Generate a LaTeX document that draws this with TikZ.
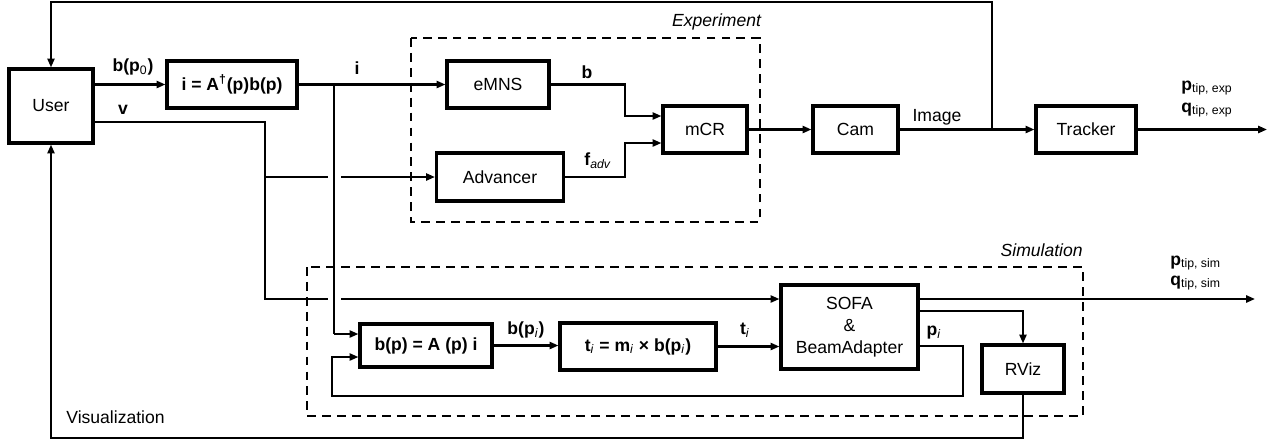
\documentclass[tikz,border=0pt]{standalone}
\usepackage{fontspec}
\setmainfont{Liberation Sans}
\usepackage{tikz}
\usetikzlibrary{arrows.meta}
\usetikzlibrary{calc}

\begin{document}
\begin{tikzpicture}[x=0.02cm,y=-0.02cm,
    line/.style={line width=1.2pt},
    arr/.style={line width=1.2pt,-{Triangle[length=5pt,width=4pt]}},
    crossgap/.style={preaction={draw=white,line width=0.26cm}},
    dashbox/.style={line width=1.2pt,dash pattern=on 5pt off 3.5pt}]
    \useasboundingbox (0,0) rectangle (1274,443);
    \begin{scope}[every node/.style={draw,line width=1.8pt,inner sep=0pt,align=center}]
    \node[minimum width=1.68cm,minimum height=1.48cm] (user) at (51,106) {User};
    \node[minimum width=2.6cm,minimum height=0.94cm] (inv) at (232,84.5) {\textbf{i = A\textsuperscript{†}(p)b(p)}};
    \node[minimum width=2.04cm,minimum height=0.94cm] (emns) at (498,84.5) {eMNS};
    \node[minimum width=2.54cm,minimum height=0.96cm] (adv) at (500,177) {Advancer};
    \node[minimum width=1.68cm,minimum height=0.94cm] (mcr) at (705,129.5) {mCR};
    \node[minimum width=1.7cm,minimum height=0.94cm] (cam) at (855.5,129.5) {Cam};
    \node[minimum width=2.0cm,minimum height=0.94cm] (tracker) at (1086,129.5) {Tracker};
    \node[minimum width=2.64cm,minimum height=0.86cm] (field) at (426,345.5) {\textbf{b(p) = A (p) i}};
    \node[minimum width=3.12cm,minimum height=0.94cm] (torque) at (638,346.5) {\textbf{t}\textsubscript{\textit{i}}\textbf{ = m}\textsubscript{\textit{i}}\textbf{ × b(p}\textsubscript{\textit{i}}\textbf{)}};
    \node[minimum width=2.74cm,minimum height=1.68cm,font={\fontsize{10}{12.5}\selectfont}] (sofa) at (849.5,327) {SOFA\\\&\\BeamAdapter};
    \node[minimum width=1.64cm,minimum height=0.96cm] (rviz) at (1023,369) {RViz};
    \end{scope}
    \coordinate (jI) at (334,84.5);
    \coordinate (jB) at (334,334);
    \coordinate (vsplit) at (265,177);
    \coordinate (imgsplit) at (992,129.5);
    \coordinate (fb) at (963,396);
    \coordinate (expout) at (1267,129.5);
    \coordinate (simout) at (1255,299);
    % v to advancer and sofa
    \draw[arr] ($(user.east)+(0,16)$) -| (vsplit) |- ($(sofa.west)+(0,-28)$);
    \draw[arr] (vsplit) -- (adv.west);
    % i to field model
    \draw[line,crossgap] (jI) -- (jB);
    \draw[arr] (jB) -- (field.west |- jB);
    \draw[arr] (user.east |- inv.west) -- (inv.west);
    \draw[arr] (inv.east) -- (emns.west);
    \draw[arr] (emns.east) -| ($(mcr.west)+(-36,-13.5)$) -- ($(mcr.west)+(0,-13.5)$);
    \draw[arr] (adv.east) -| ($(mcr.west)+(-36,13.5)$) -- ($(mcr.west)+(0,13.5)$);
    \draw[arr] (mcr) -- (cam);
    \draw[arr] (cam) -- (tracker);
    \draw[arr] (tracker.east) -- (expout);
    \draw[arr] (imgsplit) |- ($(user.north)+(0,-65)$) -- (user.north);
    \draw[arr] (field.east) -- (torque.west |- field.east);
    \draw[arr] (torque.east) -- (sofa.west |- torque.east);
    \draw[arr] ($(sofa.east)+(0,-28)$) -- (simout);
    \draw[arr] ($(sofa.east)+(0,-16)$) -| (rviz.north);
    \draw[arr] ($(sofa.east)+(0,19)$) -| (fb) -| ($(field.west)+(-26,11.5)$) -- ($(field.west)+(0,11.5)$);
    \draw[arr] (rviz.south) |- ($(user.south)+(0,293)$) -- (user.south);
    % dashed groups
    \draw[dashbox] (411,38) rectangle (760,222);
    \draw[dashbox] (307,267) rectangle (1083,416);
    \begin{scope}[every node/.style={inner sep=0pt}]
    \node[anchor=east] (explbl) at (762,22) {\textit{Experiment}};
    \node[anchor=east] (simlbl) at (1083,250) {\textit{Simulation}};
    \node[anchor=west] (vislbl) at (66,417) {Visualization};
    \node (lbp0) at (133,67) {\textbf{b(p}\textsubscript{0}\textbf{)}};
    \node (lbv) at (123,110) {\textbf{v}};
    \node (lbi) at (357,68) {\textbf{i}};
    \node (lbb) at (587,72) {\textbf{b}};
    \node (lbf) at (598,161) {\textbf{f}\textsubscript{\textit{adv}}};
    \node (lbimg) at (937,117) {Image};
    \node[anchor=west] (lbpexp) at (1181,88) {\textbf{p}\textsubscript{tip, exp}};
    \node[anchor=west] (lbqexp) at (1181,110) {\textbf{q}\textsubscript{tip, exp}};
    \node (lbbpi) at (526,330) {\textbf{b(p}\textsubscript{\textit{i}}\textbf{)}};
    \node (lbt) at (745,330) {\textbf{t}\textsubscript{\textit{i}}};
    \node (lbpi) at (934,333) {\textbf{p}\textsubscript{\textit{i}}};
    \node[anchor=west] (lbpsim) at (1170,263) {\textbf{p}\textsubscript{tip, sim}};
    \node[anchor=west] (lbqsim) at (1170,283) {\textbf{q}\textsubscript{tip, sim}};
    \end{scope}
\end{tikzpicture}
\end{document}
